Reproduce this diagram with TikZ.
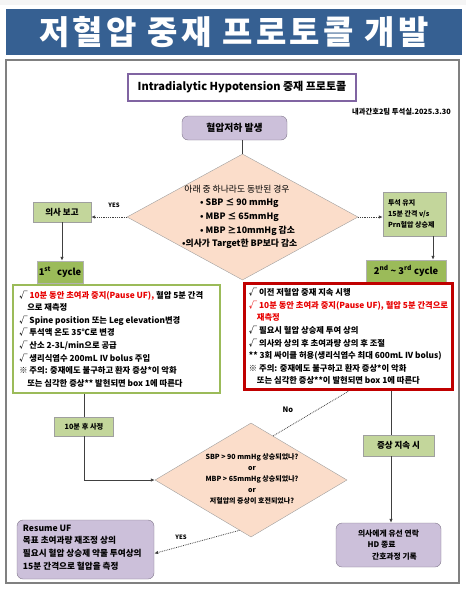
\documentclass[tikz,border=0pt]{standalone}
\usepackage{fontspec}
\setmainfont{Noto Sans CJK KR}
\newfontfamily\bannerfont{Noto Sans CJK KR}[LetterSpace=10]
\usetikzlibrary{shapes.geometric,arrows.meta,calc}
\definecolor{banner}{HTML}{366092}
\definecolor{lgreen}{HTML}{C3D69B}
\definecolor{dgreen}{HTML}{9BBB59}
\definecolor{lpurple}{HTML}{CCC0DA}
\definecolor{purpleb}{HTML}{8064A2}
\definecolor{peach}{HTML}{FBDDCA}
\definecolor{framec}{HTML}{808080}
\definecolor{redb}{HTML}{C00000}
\definecolor{redt}{HTML}{E80000}
\definecolor{linec}{HTML}{404040}
\newcommand\fsz[2]{\fontsize{#1}{#2}\selectfont}
\begin{document}
\begin{tikzpicture}[x=1pt,y=-1pt,
  lgbox/.style={rectangle, draw=gray!75, fill=lgreen, inner sep=0pt, font=\bfseries\fsz{8}{10}},
  dgbox/.style={rectangle, draw=gray!60, fill=dgreen, inner sep=0pt, font=\bfseries\fsz{9.3}{11}},
  pbox/.style={rectangle, rounded corners=6pt, draw=gray!70!purpleb, fill=lpurple, inner sep=0pt},
  dia/.style={diamond, draw=gray!75, fill=peach, inner sep=0pt},
  btext/.style={anchor=west, align=left, inner sep=0pt},
  arr/.style={draw=linec, line width=0.8pt, -{Latex[length=4pt,width=3.5pt]}},
  plain/.style={draw=linec, line width=0.8pt},
  darr/.style={arr, densely dotted},
  lbl/.style={inner sep=0pt, font=\bfseries\fsz{6}{7}}]
\useasboundingbox (0,0) rectangle (466,592);
\fill[gray!8] (0,0) rectangle (466,5);
% banner
\node[fill=banner, minimum width=456pt, minimum height=46pt, inner sep=0pt, text=white, font=\bannerfont\bfseries\fsz{33}{36}] (banner) at (234,32) {저혈압 중재 프로토콜 개발};
% frame
\draw[framec, line width=2pt] (6,60) rectangle (459,583);
% title box
\node[draw=purpleb, line width=2.5pt, fill=white, minimum width=228pt, minimum height=27pt, inner sep=0pt, font=\bfseries\fsz{11}{12}] (tbox) at (242,87.5) {Intradialytic Hypotension 중재 프로토콜};
\node[anchor=east, inner sep=0pt, font=\bfseries\fsz{7.3}{8}] (date) at (451,112) {내과간호2팀 투석실.2025.3.30};
% start
\node[pbox, minimum width=105pt, minimum height=24pt, font=\bfseries\fsz{9.8}{10}] (start) at (234.5,128) {혈압저하 발생};
% diamond 1
\node[dia, minimum width=231pt, minimum height=126pt] (d1) at (242.5,217) {};
\node[inner sep=0pt, font=\fsz{8.8}{9}] (d1a) at (237,189) {아래 중 하나라도 동반된 경우};
\node[btext, font=\bfseries\fsz{8.8}{10}] (d1b) at (200,203) {• SBP ≤ 90 mmHg};
\node[btext, font=\bfseries\fsz{8.8}{10}] (d1c) at (200,217) {• MBP ≤ 65mmHg};
\node[btext, font=\bfseries\fsz{8.8}{10}] (d1d) at (200,231) {• MBP ≥10mmHg 감소};
\node[btext, font=\bfseries\fsz{8.8}{10}] (d1e) at (182,244) {•의사가 Target한 BP보다 감소};
\draw[plain] (d1.north) -- (d1.north |- start.south);
% left branch
\node[lgbox, minimum width=58pt, minimum height=20pt, font=\bfseries\fsz{8.5}{10}] (ubo) at (62,212) {의사 보고};
\draw[darr] (d1.west) -- (d1.west -| ubo.east);
\node[lbl] (yes1) at (114,205) {YES};
\node[dgbox, minimum width=46pt, minimum height=22pt] (c1) at (60,272) {1\textsuperscript{st}\hspace{6pt}cycle};
\draw[arr] (ubo.south) -- (ubo.south |- c1.north);
\node[rectangle, draw=dgreen, line width=1.8pt, fill=white, minimum width=207pt, minimum height=108pt] (box1) at (116.5,339) {};
\node[btext, font=\bfseries\fsz{8.3}{12.6}] (box1t) at ([xshift=7pt]box1.west) {√ \textcolor{redt}{10분 동안 초여과 중지(Pause UF),} 혈압 5분 간격\\
\hspace*{8pt}으로 재측정\\
√ Spine position 또는 Leg elevation변경\\
√ 투석액 온도 35℃로 변경\\
√ 산소 2-3L/min으로 공급\\
√ 생리식염수 200mL IV bolus 주입\\
※ 주의: 중재에도 불구하고 환자 증상*이 악화\\
\hspace*{8pt}또는 심각한 증상** 발현되면 box 1에 따른다};
% right branch
\node[lgbox, minimum width=63pt, minimum height=44pt] (maint) at (414.5,214) {};
\node[btext, font=\bfseries\fsz{7}{11}] (maintt) at ([xshift=5pt]maint.west) {투석 유지\\15분 간격 v/s\\Prn혈압 상승제};
\draw[darr] (d1.east) -- (d1.east -| maint.west);
\node[dgbox, minimum width=80pt, minimum height=22pt] (c23) at (406,271) {2\textsuperscript{nd} \textasciitilde{} 3\textsuperscript{rd} cycle};
\coordinate (mx) at (433,0);
\draw[arr] (maint.south -| mx) -- (c23.north -| mx);
\node[rectangle, draw=redb, line width=3.5pt, fill=white, minimum width=208pt, minimum height=106pt] (redbox) at (348.5,336.5) {};
\node[btext, font=\bfseries\fsz{8.3}{12.6}] (redt) at ([xshift=6pt]redbox.west) {√ 이전 저혈압 중재 지속 시행\\
\textcolor{redt}{√ 10분 동안 초여과 중지(Pause UF), 혈압 5분 간격으로}\\
\textcolor{redt}{\hspace*{8pt}재측정}\\
√ 필요시 혈압 상승제 투여 상의\\
√ 의사와 상의 후 초여과량 상의 후 조절\\
** 3회 싸이클 허용(생리식염수 최대 600mL IV bolus)\\
※ 주의: 중재에도 불구하고 환자 증상*이 악화\\
\hspace*{8pt}또는 심각한 증상**이 발현되면 box 1에 따른다};
% lower left
\node[lgbox, minimum width=59pt, minimum height=19pt, font=\bfseries\fsz{7.2}{9}] (chk) at (84,426.5) {10분 후 사정};
\draw[plain] (chk.north |- box1.south) -- (chk.north);
% diamond 2
\node[dia, minimum width=192pt, minimum height=114pt] (d2) at (251,480) {};
\node[inner sep=0pt, align=center, font=\bfseries\fsz{7}{11}] (d2t) at (252,479) {SBP > 90 mmHg 상승되었나?\\or\\MBP > 65mmHg 상승되었나?\\or\\저혈압의 증상이 호전되었나?};
\draw[arr] (chk.south) |- (d2.west);
% No
\draw[plain, densely dotted] ($(d2.north)!0.23!(d2.east)$) -- (redbox.south);
\node[inner sep=0pt, font=\bfseries\fsz{7.5}{8}] (nolbl) at (288,410) {No};
\coordinate (vx) at (391,0);
\node[lgbox, minimum width=71pt, minimum height=21pt, font=\bfseries\fsz{8.5}{10}] (sym) at (398.5,445.5) {증상 지속 시};
\draw[plain] (redbox.south -| vx) -- (sym.north -| vx);
\node[pbox, minimum width=105pt, minimum height=44pt, align=center, font=\bfseries\fsz{7.8}{11.5}] (endb) at (388.5,545) {의사에게 유선 연락\\\hspace*{-14pt}HD 종료\\\hspace*{12pt}간호과정 기록};
\draw[arr] (sym.south -| vx) -- (endb.north -| vx);
% resume
\node[pbox, minimum width=137pt, minimum height=59pt] (resume) at (85.5,549.5) {};
\node[btext, font=\bfseries\fsz{8.6}{12.7}] (resumet) at ([xshift=6pt,yshift=2pt]resume.west) {Resume UF\\목표 초여과량 재조정 상의\\필요시 혈압 상승제 약물 투여상의\\15분 간격으로 혈압을 측정};
\draw[darr] ($(d2.south)!0.12!(d2.west)$) -- ($(resume.east)+(0,4)$);
\node[lbl] (yes2) at (181,537) {YES};
\end{tikzpicture}
\end{document}
